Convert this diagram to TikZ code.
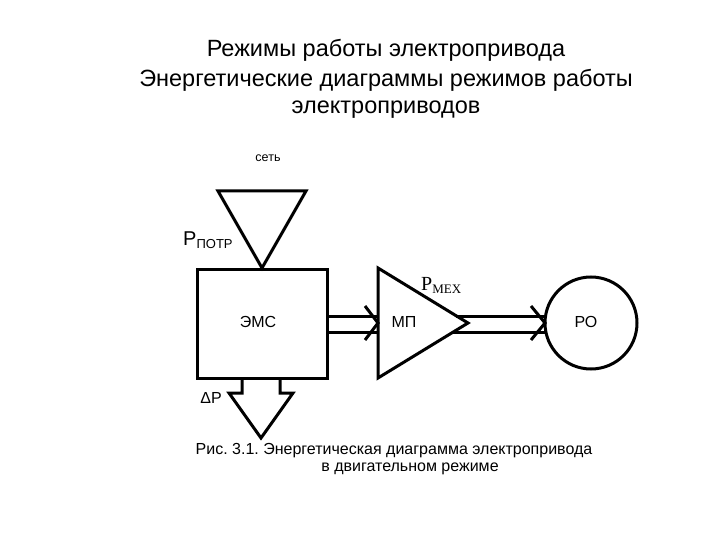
\documentclass[tikz,border=0pt]{standalone}
\usepackage{fontspec}
\setmainfont{Liberation Sans}
\newfontfamily\serifrm{Liberation Serif}
\frenchspacing
\begin{document}
\begin{tikzpicture}[x=1pt,y=-1pt,
  shape line/.style={line width=3pt, line join=miter},
  dbl/.style={line width=3pt},
  lbl/.style={inner sep=0pt, font=\fontsize{16}{18}\selectfont},
  ttl/.style={inner sep=0pt, font=\fontsize{23.5}{28}\selectfont},
  captxt/.style={inner sep=0pt, font=\fontsize{16}{18}\selectfont}]
\useasboundingbox (0,0) rectangle (720,540);
% titles
\node[ttl] (t1) at (386,50) {Режимы работы электропривода};
\node[ttl] (t2) at (386,80) {Энергетические диаграммы режимов работы};
\node[ttl] (t3) at (386,110) {электроприводов};
\node[inner sep=0pt, font=\fontsize{12.5}{14}\selectfont] (set) at (268,158) {сеть};
% source triangle
\coordinate (sA) at (218,191);
\coordinate (sB) at (306,191);
\coordinate (sC) at (262,268);
\draw[shape line] (sA) -- (sB) -- (sC) -- cycle;
\node[inner sep=0pt, anchor=base west] (ppotr) at (183,245) {\fontsize{20}{22}\selectfont P\raisebox{-3pt}{\fontsize{13}{14}\selectfont ПОТР}};
% EMS box
\node[draw, shape line, minimum width=130pt, minimum height=109pt, inner sep=0pt] (ems) at (262,323.5) {};
\node[lbl] (emst) at (258,322) {ЭМС};
% MP triangle
\coordinate (mA) at (378,268);
\coordinate (mB) at (378,378);
\coordinate (mC) at (468,323);
\draw[shape line] (mA) -- (mC) -- (mB) -- cycle;
\node[lbl] (mpt) at (404,322) {МП};
\node[inner sep=0pt, anchor=base west, font=\serifrm] (pmex) at (421,290) {\fontsize{20}{22}\selectfont P\raisebox{-3pt}{\fontsize{13}{14}\selectfont MEX}};
% RO circle
\node[draw, circle, shape line, minimum size=92pt, inner sep=0pt] (ro) at (591,323) {};
\node[lbl] (rot) at (586,322) {РО};
% double arrow 1
\coordinate (a1u) at (327,316); \coordinate (a1ue) at (378,316);
\coordinate (a1l) at (327,332); \coordinate (a1le) at (378,332);
\draw[dbl] (a1u) -- (a1ue);
\draw[dbl] (a1l) -- (a1le);
\coordinate (c1a) at (365,306); \coordinate (c1b) at (378,323); \coordinate (c1c) at (365,340);
\draw[dbl] (c1a) -- (c1b) -- (c1c);
% double arrow 2
\coordinate (a2u) at (456,316); \coordinate (a2ue) at (545,316);
\coordinate (a2l) at (453,332); \coordinate (a2le) at (545,332);
\draw[dbl] (a2u) -- (a2ue);
\draw[dbl] (a2l) -- (a2le);
\coordinate (c2a) at (531,306); \coordinate (c2b) at (545,323); \coordinate (c2c) at (531,340);
\draw[dbl] (c2a) -- (c2b) -- (c2c);
% loss arrow
\coordinate (l1) at (242,378); \coordinate (l2) at (242,393); \coordinate (l3) at (229,393);
\coordinate (l4) at (261,438); \coordinate (l5) at (293,393); \coordinate (l6) at (280,393);
\coordinate (l7) at (280,378);
\draw[shape line] (l1) -- (l2) -- (l3) -- (l4) -- (l5) -- (l6) -- (l7);
\node[inner sep=0pt, font=\fontsize{16}{18}\selectfont] (dp) at (211,398) {ΔP};
% caption
\node[captxt] (c1) at (394,451) {Рис. 3.1. Энергетическая диаграмма электропривода};
\node[captxt] (c2) at (410,469) {в двигательном режиме};
\end{tikzpicture}
\end{document}
